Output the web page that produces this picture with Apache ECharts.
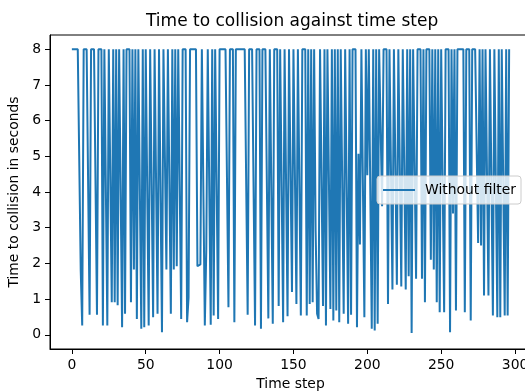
<!DOCTYPE html>
<html>
<head>
<meta charset="utf-8">
<script src="https://cdn.jsdelivr.net/npm/echarts@6/dist/echarts.min.js"></script>
<style>
  html, body { margin: 0; padding: 0; overflow: hidden; background: #fff; }
  #chart { width: 540px; height: 391px; }
</style>
</head>
<body>
<div id="chart"></div>
<script>
// time to collision (s) per time step
const ttc = [
  8, 8, 8, 8, 8, 8, 1.8, 0.26, 8, 8,
  8, 8, 0.56, 8, 8, 8, 8, 0.56, 8, 8,
  8, 0.26, 8, 8, 0.26, 8, 8, 0.91, 8, 0.91,
  8, 0.83, 8, 8, 0.21, 8, 0.59, 8, 8, 8,
  0.91, 8, 1.83, 8, 0.44, 8, 8, 0.17, 8, 0.21,
  8, 8, 0.26, 8, 8, 0.49, 8, 8, 0.59, 8,
  8, 0.07, 8, 8, 1.83, 8, 8, 0.59, 8, 1.83,
  8, 1.92, 8, 8, 0.44, 8, 8, 8, 0.35, 1.05,
  8, 8, 8, 8, 8, 1.92, 1.95, 1.97, 8, 8,
  0.26, 2.4, 8, 8, 0.28, 8, 0.54, 8, 8, 0.44,
  8, 8, 8, 8, 8, 8, 0.77, 8, 8, 8,
  0.35, 8, 8, 8, 8, 8, 8, 8, 8, 0.56,
  8, 8, 8, 8, 0.26, 8, 8, 8, 0.17, 8,
  8, 8, 8, 0.46, 8, 8, 0.31, 8, 8, 8,
  0.81, 8, 8, 0.35, 8, 8, 0.52, 8, 8, 1.2,
  8, 8, 0.86, 8, 8, 0.54, 8, 8, 8, 0.54,
  8, 0.86, 8, 0.91, 8, 2.9, 0.59, 0.44, 8, 8,
  0.81, 8, 0.26, 8, 8, 0.72, 8, 0.40, 8, 0.68,
  8, 0.35, 8, 8, 0.59, 8, 8, 0.31, 8, 0.56,
  8, 8, 8, 0.21, 5.07, 2.53, 8, 8, 0.49, 8,
  4.47, 8, 8, 0.17, 8, 0.12, 8, 0.31, 8, 8,
  3.6, 8, 8, 8, 0.86, 8, 8, 1.27, 8, 8,
  1.4, 8, 8, 1.35, 8, 8, 1.27, 8, 1.64, 8,
  0.05, 8, 8, 1.57, 8, 8, 8, 1.57, 8, 0.91,
  8, 8, 8, 2.1, 8, 1.83, 8, 0.91, 8, 0.63,
  8, 8, 0.63, 8, 8, 8, 0.07, 8, 3.4, 8,
  0.68, 8, 8, 8, 8, 8, 0.63, 8, 8, 8,
  0.40, 8, 8, 8, 8, 2.57, 8, 2.5, 8, 1.1,
  8, 8, 1.1, 8, 8, 0.54, 8, 8, 0.49, 8,
  0.49, 8, 8, 0.54, 8, 0.54, 8
];
const timeSteps = ttc.map((_, i) => i);
const xTicks = [0, 50, 100, 150, 200, 250, 300];
const yTicks = [0, 1, 2, 3, 4, 5, 6, 7, 8];

const font = "DejaVu Sans";
const chart = echarts.init(document.getElementById("chart"), null, { renderer: "canvas" });

chart.setOption({
  animation: false,
  backgroundColor: "#fff",
  title: {
    text: "Time to collision against time step",
    left: 141,
    top: 8,
    textStyle: { fontFamily: font, fontSize: 17, fontWeight: "normal", color: "#000" },
  },
  legend: {
    data: ["Without filter"],
    left: 377,
    top: 176,
    orient: "vertical",
    padding: [7, 5, 7, 6],
    itemWidth: 32,
    itemHeight: 2,
    icon: "rect",
    backgroundColor: "rgba(255,255,255,0.8)",
    borderColor: "#cccccc",
    borderWidth: 1,
    borderRadius: 3,
    textStyle: { fontFamily: font, fontSize: 13.9, color: "#000", padding: [0, 0, 0, 5] },
  },
  grid: {
    left: 50,
    right: 9,
    top: 35,
    bottom: 42,
    outerBoundsMode: "none",
    show: true,
    borderColor: "#000",
    borderWidth: 1,
    backgroundColor: "transparent",
  },
  xAxis: {
    type: "value",
    min: -14.8,
    max: 310.8,
    name: "Time step",
    nameLocation: "middle",
    nameGap: 26,
    nameTextStyle: { fontFamily: font, fontSize: 13.9, color: "#000" },
    axisLine: { show: true, onZero: false, lineStyle: { color: "#000", width: 1 } },
    axisTick: { show: true, length: 5, customValues: xTicks, lineStyle: { color: "#000" } },
    axisLabel: { customValues: xTicks, margin: 9, fontFamily: font, fontSize: 13.9, color: "#000" },
    splitLine: { show: false },
  },
  yAxis: {
    type: "value",
    min: -0.3975,
    max: 8.3975,
    name: "Time to collision in seconds",
    nameLocation: "middle",
    nameGap: 26,
    nameTextStyle: { fontFamily: font, fontSize: 13.9, color: "#000" },
    axisLine: { show: true, onZero: false, lineStyle: { color: "#000", width: 1 } },
    axisTick: { show: true, length: 5, customValues: yTicks, lineStyle: { color: "#000" } },
    axisLabel: { customValues: yTicks, margin: 9, fontFamily: font, fontSize: 13.9, color: "#000" },
    splitLine: { show: false },
  },
  series: [
    {
      name: "Without filter",
      type: "line",
      data: timeSteps.map((t, i) => [t, ttc[i]]),
      symbol: "none",
      showSymbol: false,
      lineStyle: { color: "#1f77b4", width: 2 },
      itemStyle: { color: "#1f77b4" },
      z: 2,
    },
  ],
});
</script>
</body>
</html>
